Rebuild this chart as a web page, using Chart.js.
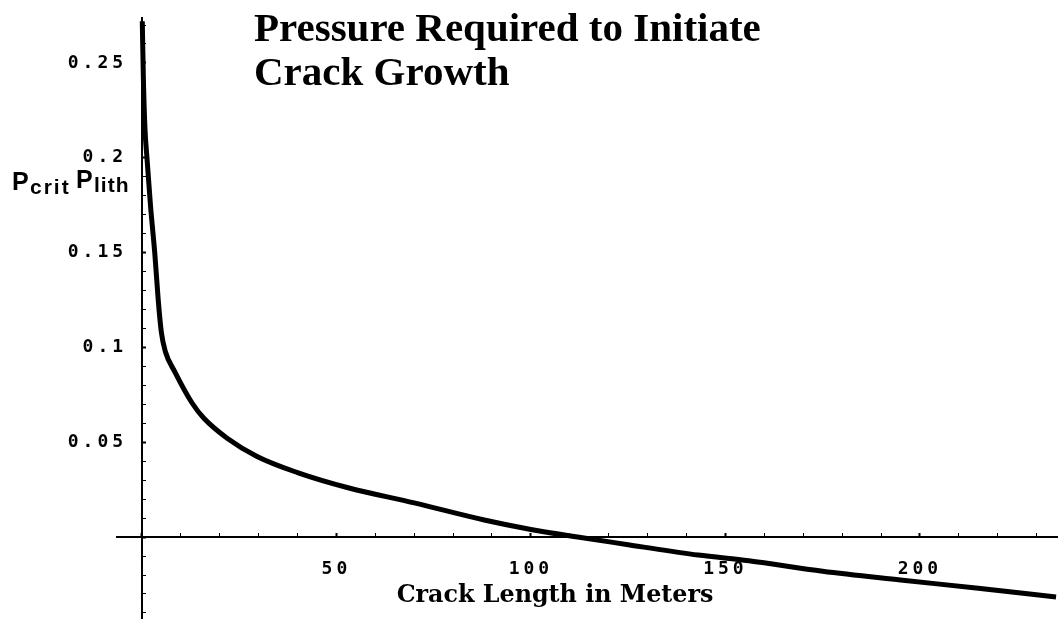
<!DOCTYPE html>
<html>
<head>
<meta charset="utf-8">
<script src="https://cdn.jsdelivr.net/npm/chart.js@4"></script>
<style>
  html, body { margin: 0; padding: 0; background: #fff; }
  #wrap { width: 1058px; height: 619px; position: relative; }
</style>
</head>
<body>
<div id="wrap"><canvas id="crackChart"></canvas></div>
<script>
// crack length (m) vs P_crit / P_lith
const crackLength = [0.1, 0.4, 0.8, 1.3, 2.2, 3.3, 4.2, 5, 6, 8.5, 12.9, 16, 22, 29.6, 40, 53, 70, 88, 100, 112, 125, 143, 156, 175, 195, 215, 235];
const pressureRatio = [0.272, 0.24, 0.215, 0.2, 0.175, 0.15, 0.125, 0.108, 0.098, 0.087, 0.0707, 0.0625, 0.052, 0.0425, 0.034, 0.026, 0.018, 0.009, 0.004, 0, -0.004, -0.0095, -0.0125, -0.018, -0.0226, -0.027, -0.0316];

const xTickLabels = ["50", "100", "150", "200"];
const yTickLabels = ["0.05", "0.1", "0.15", "0.2", "0.25"];

const titleLines = ["Pressure Required to Initiate", "Crack Growth"];
const xAxisTitle = "Crack Length in Meters";

/* ===== text drawn straight on the canvas ===== */
const textPlugin = {
  id: "textPlugin",
  beforeDraw(chart) {
    // wide tick lettering like the original
    chart.ctx.letterSpacing = "4px";
  },
  afterDraw(chart) {
    const ctx = chart.ctx;
    ctx.save();
    ctx.letterSpacing = "0px";
    ctx.fillStyle = "#000";
    ctx.textBaseline = "alphabetic";

    // title
    ctx.font = "bold 41px 'Liberation Serif'";
    ctx.textAlign = "left";
    ctx.fillText(titleLines[0], 254, 41);
    ctx.fillText(titleLines[1], 254, 85);

    // x axis title
    ctx.font = "bold 23.8px 'DejaVu Serif'";
    ctx.textAlign = "center";
    ctx.fillText(xAxisTitle, 555, 602);

    // y axis title: P_crit P_lith
    ctx.textAlign = "left";
    ctx.font = "bold 25px 'Liberation Sans'";
    ctx.fillText("P", 12, 190);
    ctx.fillText("P", 76, 188);
    ctx.font = "bold 21px 'Liberation Sans'";
    ctx.letterSpacing = "2px";
    ctx.fillText("crit", 30, 194);
    ctx.letterSpacing = "1px";
    ctx.fillText("lith", 94, 192);
    ctx.restore();
  }
};

// axes sit inside the plot, so their label overhang must not shrink it
const noOverhang = s => {
  s.paddingTop = 0;
  s.paddingBottom = 0;
  s.paddingLeft = 0;
  s.paddingRight = 0;
};

const tickFont = { family: "'DejaVu Sans Mono'", weight: "bold", size: 18 };

const points = crackLength.map((v, i) => ({ x: v, y: pressureRatio[i] }));

new Chart(document.getElementById("crackChart"), {
  type: "scatter",
  data: {
    datasets: [{
      data: points,
      showLine: true,
      borderColor: "#000",
      borderWidth: 5,
      pointRadius: 0,
      cubicInterpolationMode: "monotone",
      fill: false
    }]
  },
  options: {
    responsive: true,
    maintainAspectRatio: false,
    animation: false,
    devicePixelRatio: 1,
    layout: { padding: { left: 117, top: 18, right: 0, bottom: 0 } },
    plugins: {
      legend: { display: false },
      tooltip: { enabled: false },
      title: { display: false }
    },
    scales: {
      x: {
        type: "linear",
        position: { y: 0 },
        min: -6.4,
        max: 235.5,
        afterFit: noOverhang,
        border: { color: "#000", width: 2 },
        grid: {
          drawOnChartArea: false,
          tickLength: -5,
          tickColor: "#000",
          tickWidth: c => (c.tick && c.tick.value % 50 === 0 ? 2 : 1)
        },
        ticks: {
          stepSize: 10,
          includeBounds: false,
          autoSkip: false,
          maxRotation: 0,
          padding: 26,
          color: "#000",
          font: tickFont,
          callback: v => {
            const s = String(Math.round(v));
            return xTickLabels.includes(s) ? s : "";
          }
        }
      },
      y: {
        type: "linear",
        position: { x: 0 },
        min: -0.0432,
        max: 0.2737,
        afterFit: noOverhang,
        border: { color: "#000", width: 2 },
        grid: {
          drawOnChartArea: false,
          tickLength: -5,
          tickColor: "#000",
          tickWidth: c => (c.tick && Math.round(c.tick.value * 100) % 5 === 0 ? 2 : 1)
        },
        ticks: {
          stepSize: 0.01,
          includeBounds: false,
          autoSkip: false,
          color: "#000",
          font: tickFont,
          // trailing space keeps the label clear of the axis
          callback: v => {
            const s = String(Math.round(v * 100) / 100);
            return yTickLabels.includes(s) ? s + " " : "";
          }
        }
      }
    }
  },
  plugins: [textPlugin]
});
</script>
</body>
</html>
